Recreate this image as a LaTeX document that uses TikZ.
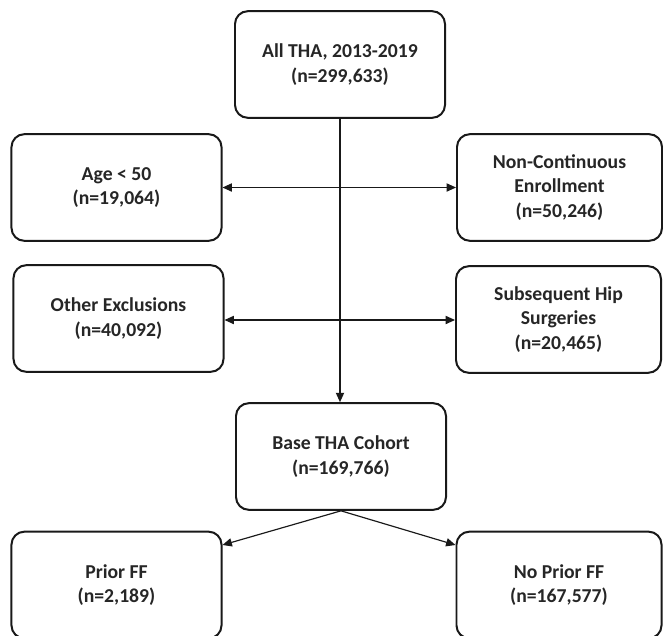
\documentclass[tikz,border=0pt]{standalone}
\usepackage{fontspec}
\setmainfont{Carlito}
\usetikzlibrary{arrows.meta}

\begin{document}
\begin{tikzpicture}[x=0.03cm, y=-0.03cm]
        \tikzstyle{box}=[draw=black!90,fill=white,line width=1.7pt,rounded corners=11pt,align=center,
            minimum width=6.3cm,minimum height=3.2cm,inner sep=2pt,
            font=\bfseries\fontsize{16.8}{21.2}\selectfont,text=black!85]
        \tikzstyle{side}=[box,minimum width=6.15cm]
        \tikzstyle{link}=[line width=1pt,draw=black!90,-{Triangle[length=8pt,width=7pt]}]
        \tikzstyle{both}=[link,{Triangle[length=8pt,width=7pt]}-{Triangle[length=8pt,width=7pt]}]

        \useasboundingbox (0,0) rectangle (663,636);

        \node[box] (F_1) at (340,64.5)  {All THA, 2013-2019\\(n=299,633)};
        \node[box] (F_2) at (116.5,187.5)  {Age < 50\\(n=19,064)};
        \node[side] (F_3) at (559.5,187.5)  {Non-Continuous\\Enrollment\\(n=50,246)};
        \node[box] (F_4) at (118.5,318.5)  {Other Exclusions\\(n=40,092)};
        \node[side] (F_5) at (558.5,319.5)  {Subsequent Hip\\Surgeries\\(n=20,465)};
        \node[box] (F_6) at (341,456.5)  {Base THA Cohort\\(n=169,766)};
        \node[box] (F_7) at (116.5,585)  {Prior FF\\(n=2,189)};
        \node[side] (F_8) at (559,585)  {No Prior FF\\(n=167,577)};

        \coordinate (T_1) at (F_7.east |- 0,545);
        \coordinate (T_2) at (F_8.west |- 0,545);

        \draw[link] (F_1.south) -- (F_1.south |- F_6.north);
        \draw[both] (F_2.east) -- (F_3.west);
        \draw[both] (F_4.east |- 0,320) -- (F_5.west |- 0,320);
        \draw[link] (F_6.south) -- (T_1);
        \draw[link] (F_6.south) -- (T_2);
\end{tikzpicture}
\end{document}
